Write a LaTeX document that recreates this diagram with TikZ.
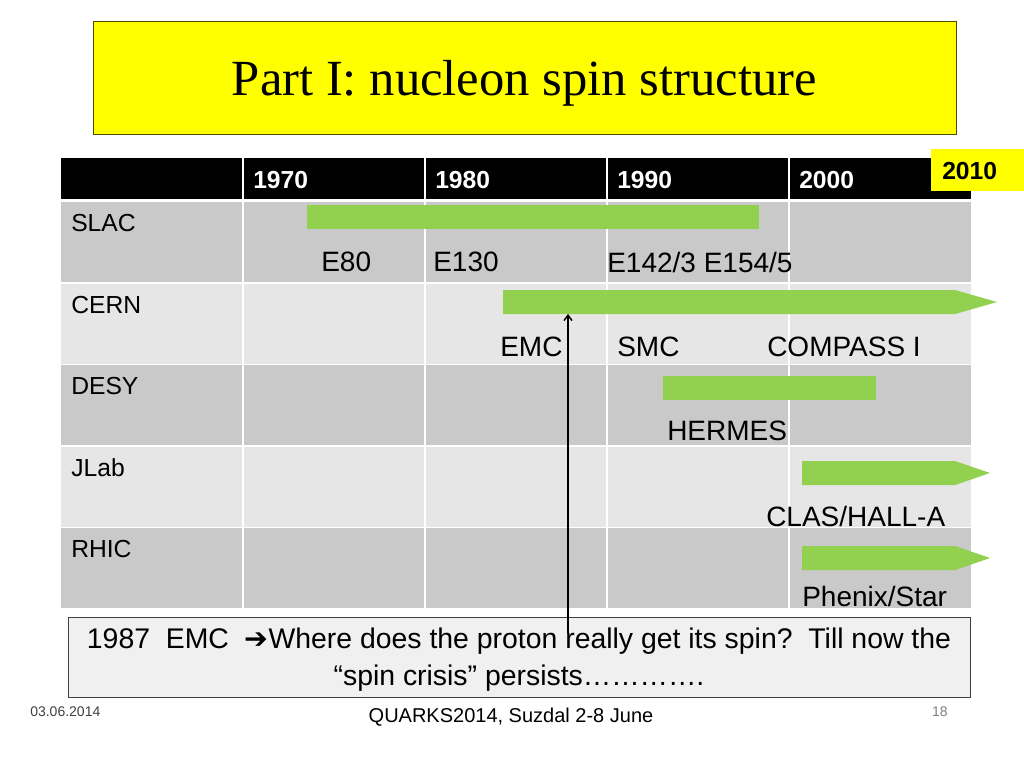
\documentclass[tikz,border=0pt]{standalone}
\usepackage{fontspec}
\setmainfont{Liberation Sans}
\newfontfamily\titlefont{Liberation Serif}
\newfontfamily\symfont{DejaVu Sans}
\usepackage{tikz}
\usetikzlibrary{arrows.meta}
\definecolor{barg}{HTML}{92D050}
\definecolor{titleyel}{HTML}{FFFF00}
\definecolor{rowdark}{HTML}{C9C9C9}
\definecolor{rowlight}{HTML}{E6E6E6}
\definecolor{boxfill}{HTML}{F0F0F0}
\definecolor{boxline}{HTML}{404040}
\def\expbar#1#2#3#4{\fill[gbar] (#2,#3) rectangle (#4,#3+24) coordinate (#1)}
\def\exparrow#1#2#3#4{\fill[gbar] (#2,#3) -- (955,#3) -- (#4,#3+12) -- (955,#3+24) -- (#2,#3+24) coordinate (#1) -- cycle}
\tikzstyle{gbar}=[fill=barg]
\tikzstyle{titlebox}=[draw=black!70!titleyel,fill=titleyel,minimum width=647pt,minimum height=84.75pt,text depth=0pt,font=\titlefont\fontsize{38}{40}\selectfont]
\tikzstyle{yearlab}=[anchor=west,text=white,inner sep=0pt,font=\fontsize{18.5}{20}\selectfont\bfseries]
\tikzstyle{rowlab}=[anchor=west,inner sep=0pt,font=\fontsize{18.5}{20}\selectfont]
\tikzstyle{explab}=[anchor=west,inner sep=0pt,font=\fontsize{21}{24}\selectfont]
\tikzstyle{crisisbox}=[draw=boxline,fill=boxfill,minimum width=676.5pt,minimum height=60pt,align=center,text depth=0pt,font=\fontsize{21.3}{28}\selectfont]
\tikzstyle{foot}=[inner sep=0pt,font=\fontsize{10.5}{12}\selectfont]

\begin{document}
\begin{tikzpicture}[x=0.75pt,y=-0.75pt]
    \useasboundingbox[fill=white] (0,0) rectangle (1024,768);
    \node[titlebox] (title) at (524.5,77.5) {Part I: nucleon spin structure};
    % table
    \fill[black] (61,158) rectangle (971,199);
    \foreach \lab/\col [count=\n from 0] in {SLAC/rowdark,CERN/rowlight,DESY/rowdark,JLab/rowlight,RHIC/rowdark} {
      \fill[\col] (61,{202+81.6*\n}) rectangle (971,{282+81.6*\n});
      \node[rowlab] (row\lab) at (71,{223+81.6*\n}) {\lab};
    }
    \foreach \x in {243,425,607,789}
      \draw[white,line width=1.5pt] (\x,158) -- (\x,609);
    \foreach \yr [count=\i from 0] in {1970,1980,1990,2000}
      \node[yearlab] (yr\yr) at ({253+182*\i},180) {\yr};
    \fill[titleyel] (931,149) rectangle (1024,191);
    \node[yearlab,text=black] (yr2010) at (942,171) {2010};
    % experiments
    \expbar{slacbar}{307}{205}{759};
    \exparrow{cernbar}{503}{290}{997};
    \expbar{desybar}{663}{376}{876};
    \exparrow{jlabbar}{802}{461}{990};
    \exparrow{rhicbar}{802}{546}{990};
    \node[explab] (e80) at (321,262) {E80};
    \node[explab] (e130) at (433,262) {E130};
    \node[explab] (e142) at (607,262) {E142/3 E154/5};
    \node[explab] (emc) at (500,347) {EMC};
    \node[explab] (smc) at (617,347) {SMC};
    \node[explab] (compass) at (767,347) {COMPASS I};
    \node[explab] (hermes) at (667,431) {HERMES};
    \node[explab] (clas) at (766,516) {CLAS/HALL-A};
    \node[explab] (phenix) at (802,596) {Phenix/Star};
    % spin crisis
    \node[crisisbox] (crisis) at (519,657) {1987\ \ EMC\ \ {\symfont ➔}Where does the proton really get its spin?\ \ Till now the\\“spin crisis” persists………….};
    \coordinate (arrfoot) at (568,633);
    \draw[line width=1.1pt,-{Straight Barb[length=4pt,width=6pt]}] (arrfoot) -- (arrfoot |- cernbar);
    % footer
    \node[foot,anchor=west,text=black!75] (date) at (30,712) {03.06.2014};
    \node[foot,font=\fontsize{15}{17}\selectfont] (conf) at (511,717) {QUARKS2014, Suzdal 2-8 June};
    \node[foot,anchor=east,text=black!50] (page) at (948,712) {18};
  \end{tikzpicture}
\end{document}
